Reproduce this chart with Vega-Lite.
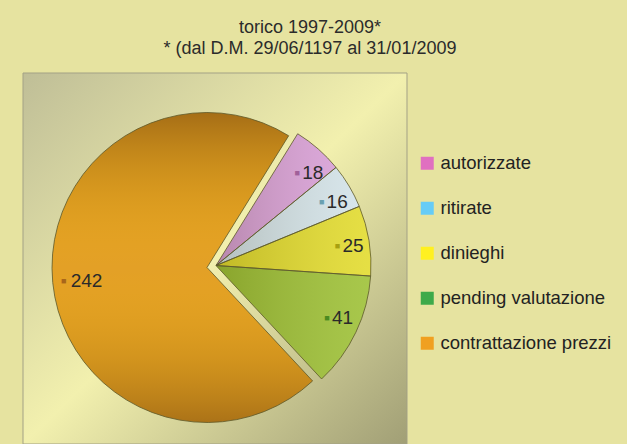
{
  "$schema": "https://vega.github.io/schema/vega-lite/v6.json",
  "width": 384,
  "height": 371,
  "autosize": {"type": "none"},
  "padding": {"left": 23, "top": 73, "right": 220, "bottom": 0},
  "background": "#e6e3a0",
  "config": {"view": {"stroke": null}},
  "title": {
    "text": ["torico 1997-2009*", "* (dal D.M. 29/06/1197 al 31/01/2009"],
    "font": "Liberation Sans",
    "fontSize": 18,
    "fontWeight": "normal",
    "color": "#2b2b2b",
    "anchor": "middle",
    "dx": 95,
    "offset": 15,
    "lineHeight": 21
  },
  "data": {
    "values": [
      {"categoria": "autorizzate", "valore": 18, "ordine": 1},
      {"categoria": "ritirate", "valore": 16, "ordine": 2},
      {"categoria": "dinieghi", "valore": 25, "ordine": 3},
      {"categoria": "pending valutazione", "valore": 41, "ordine": 4},
      {"categoria": "contrattazione prezzi", "valore": 242, "ordine": 5}
    ]
  },
  "transform": [
    {"stack": "valore", "groupby": [], "sort": [{"field": "ordine"}], "as": ["v0", "v1"]},
    {"calculate": "(datum.v0 + datum.v1) / 2", "as": "vm"}
  ],
  "resolve": {"scale": {"fill": "independent"}, "legend": {"fill": "independent"}},
  "layer": [
    {
      "transform": [{"filter": "datum.ordine == 1"}],
      "mark": {"type": "rect", "stroke": "#a3a185", "strokeWidth": 1,
        "fill": {"gradient": "linear", "x1": 0, "y1": 0, "x2": 1, "y2": 1,
          "stops": [{"offset": 0, "color": "#bfbe97"}, {"offset": 0.5, "color": "#f2f0ae"}, {"offset": 1, "color": "#a19f76"}]}},
      "encoding": {}
    },
    {
      "transform": [{"filter": "datum.ordine == 5"}],
      "mark": {"type": "arc", "radius": 155, "xOffset": -8, "yOffset": 9, "strokeWidth": 0},
      "encoding": {
        "theta": {"field": "v0", "type": "quantitative", "scale": {"domain": [0, 342], "range": [0.555, 6.838]}},
        "theta2": {"field": "v1"},
        "fill": {"field": "categoria", "type": "nominal", "legend": null,
          "scale": {"domain": ["autorizzate", "ritirate", "dinieghi", "pending valutazione", "contrattazione prezzi"],
            "range": ["#d69cd8", "#d2e2ec", "#e2db2e", "#9cc036", "#e3a026"]}}
      }
    },
    {
      "transform": [{"filter": "datum.ordine != 5"}],
      "mark": {"type": "arc", "radius": 155, "xOffset": 1, "yOffset": 7, "strokeWidth": 0},
      "encoding": {
        "theta": {"field": "v0", "type": "quantitative"},
        "theta2": {"field": "v1"},
        "fill": {"field": "categoria", "type": "nominal", "legend": null,
          "scale": {"domain": ["autorizzate", "ritirate", "dinieghi", "pending valutazione", "contrattazione prezzi"],
            "range": ["#d69cd8", "#d2e2ec", "#e2db2e", "#9cc036", "#e3a026"]}}
      }
    },
    {
      "transform": [{"filter": "datum.ordine == 5"}],
      "mark": {"type": "arc", "radius": 155, "xOffset": -8, "yOffset": 9, "stroke": "#5e5a2c", "strokeWidth": 1, "strokeOpacity": 0.8,
        "fill": {"gradient": "linear", "x1": 0, "y1": 0, "x2": 0, "y2": 1,
          "stops": [{"offset": 0, "color": "rgba(80,40,0,0.42)"}, {"offset": 0.5, "color": "rgba(255,200,0,0)"}, {"offset": 1, "color": "rgba(80,40,0,0.38)"}]}},
      "encoding": {
        "theta": {"field": "v0", "type": "quantitative"},
        "theta2": {"field": "v1"}
      }
    },
    {
      "transform": [{"filter": "datum.ordine != 5"}],
      "mark": {"type": "arc", "radius": 155, "xOffset": 1, "yOffset": 7, "stroke": "#5e5a2c", "strokeWidth": 1, "strokeOpacity": 0.8,
        "fill": {"gradient": "linear", "x1": 0, "y1": 0, "x2": 1, "y2": 0,
          "stops": [{"offset": 0, "color": "rgba(60,50,0,0.2)"}, {"offset": 1, "color": "rgba(255,255,230,0.12)"}]}},
      "encoding": {
        "theta": {"field": "v0", "type": "quantitative"},
        "theta2": {"field": "v1"}
      }
    },
    {
      "transform": [{"filter": "datum.ordine == 5"}],
      "mark": {"type": "text", "text": "■", "fontSize": 9, "align": "center", "baseline": "middle", "radius": 144, "xOffset": -8, "yOffset": 9},
      "encoding": {
        "theta": {"field": "vm", "type": "quantitative"},
        "fill": {"field": "categoria", "type": "nominal", "legend": null,
          "scale": {"domain": ["autorizzate", "ritirate", "dinieghi", "pending valutazione", "contrattazione prezzi"],
            "range": ["#a0609a", "#6aa0b0", "#a8a010", "#4a8a20", "#a8661a"]}}
      }
    },
    {
      "transform": [{"filter": "datum.ordine != 5"}],
      "mark": {"type": "text", "text": "■", "fontSize": 9, "align": "center", "baseline": "middle", "radius": 123, "xOffset": 1, "yOffset": 7},
      "encoding": {
        "theta": {"field": "vm", "type": "quantitative"},
        "fill": {"field": "categoria", "type": "nominal", "legend": null,
          "scale": {"domain": ["autorizzate", "ritirate", "dinieghi", "pending valutazione", "contrattazione prezzi"],
            "range": ["#a0609a", "#6aa0b0", "#a8a010", "#4a8a20", "#a8661a"]}}
      }
    },
    {
      "transform": [{"filter": "datum.ordine == 5"}],
      "mark": {"type": "text", "fontSize": 19, "font": "Liberation Sans", "color": "#2a2a2a", "align": "left", "baseline": "middle", "dx": 7, "radius": 144, "xOffset": -8, "yOffset": 9},
      "encoding": {
        "theta": {"field": "vm", "type": "quantitative"},
        "text": {"field": "valore", "type": "quantitative"}
      }
    },
    {
      "transform": [{"filter": "datum.ordine != 5"}],
      "mark": {"type": "text", "fontSize": 19, "font": "Liberation Sans", "color": "#2a2a2a", "align": "left", "baseline": "middle", "dx": 5, "radius": 123, "xOffset": 1, "yOffset": 7},
      "encoding": {
        "theta": {"field": "vm", "type": "quantitative"},
        "text": {"field": "valore", "type": "quantitative"}
      }
    },
    {
      "mark": {"type": "square", "opacity": 0, "size": 0},
      "encoding": {
        "fill": {"field": "categoria", "type": "nominal",
          "scale": {"domain": ["autorizzate", "ritirate", "dinieghi", "pending valutazione", "contrattazione prezzi"],
            "range": ["#e070c0", "#66ccf6", "#fff020", "#3daa4a", "#f0a020"]},
          "legend": {"orient": "none", "legendX": 395, "legendY": 81, "title": null, "symbolType": "square", "symbolSize": 169, "symbolOpacity": 1,
            "labelFontSize": 18.5, "labelFont": "Liberation Sans", "labelColor": "#222222", "labelLimit": 400, "rowPadding": 26, "labelOffset": 4, "padding": 0, "symbolStrokeWidth": 0}}
      }
    }
  ]
}
